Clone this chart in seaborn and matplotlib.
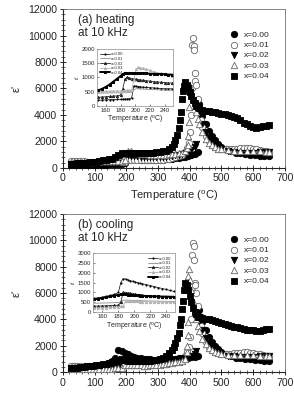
import matplotlib
matplotlib.use("Agg")
import matplotlib.pyplot as plt
import seaborn as sns
from matplotlib.ticker import AutoMinorLocator, MultipleLocator

sns.set_style("ticks")
plt.rcParams['font.family'] = ['Liberation Sans', 'DejaVu Sans']

labels = ["x=0.00", "x=0.01", "x=0.02", "x=0.03", "x=0.04"]

# shared low temperature grid (degC)
t_low = [25, 35, 45, 55, 65, 75, 85, 95, 105, 115, 125, 135, 145, 155, 165, 175, 185,
         195, 205, 215, 225, 235, 245, 255, 265, 275, 285, 295, 305, 315, 325, 335, 345]

# ---------------- (a) heating ----------------
heat_t00 = t_low + [355, 365, 375, 385, 395, 405, 415, 425,
                    430, 435, 440, 450, 460, 470, 480, 490, 500, 515, 530, 545, 560, 575, 590, 605, 620, 635, 650]
heat_e00 = [200, 200, 210, 210, 220, 220, 230, 230, 240, 240, 250, 250, 260, 260, 270, 270, 280,
            350, 700, 680, 650, 640, 620, 610, 600, 600, 600, 610, 620, 630, 650, 670, 700,
            730, 760, 800, 850, 900, 980, 1080, 1200,
            4800, 4300, 3900, 3300, 2800, 2400, 2100, 1800, 1600, 1400, 1250, 1150, 1100, 1050, 1000, 960, 930, 900, 880]

heat_t01 = t_low + [355, 365, 375, 385, 392, 397, 401, 404, 406, 408, 410, 412, 414, 416, 418, 420,
                    425, 430, 435, 440, 450, 460, 470, 480, 490, 500, 510, 520, 530, 540, 550, 560,
                    570, 580, 590, 600, 610, 620, 630, 640, 650]
heat_e01 = [500, 500, 500, 490, 490, 480, 480, 480, 470, 470, 470, 470, 460, 460, 460, 460, 460,
            470, 620, 600, 590, 580, 570, 560, 560, 560, 570, 580, 600, 620, 650, 700, 750,
            800, 880, 1000, 1200, 1500, 1900, 2700, 4000, 6000, 9300, 9800, 9200, 8900, 7200, 6600, 6300,
            5200, 4300, 3600, 3100, 2400, 2000, 1750, 1600, 1500, 1450, 1400, 1400, 1400, 1420, 1450, 1480,
            1500, 1500, 1480, 1450, 1400, 1350, 1300, 1250, 1200]

heat_t02 = t_low + [355, 365, 375, 385, 395, 405, 415, 420,
                    425, 430, 440, 450, 460, 470, 480, 490, 500, 520, 540, 560, 580, 600, 620, 640, 650]
heat_e02 = [300, 300, 310, 310, 320, 320, 330, 330, 340, 340, 350, 350, 360, 370, 380, 390, 950,
            1000, 950, 920, 900, 870, 850, 830, 810, 800, 800, 800, 810, 830, 850, 880, 920,
            960, 1000, 1050, 1120, 1200, 1350, 1600, 1800,
            4500, 4000, 3300, 2700, 2300, 2000, 1750, 1550, 1400, 1250, 1200, 1150, 1150, 1150, 1200, 1200, 1200]

heat_t03 = t_low + [355, 365, 375, 385, 390, 393, 395, 397, 399, 401,
                    405, 410, 415, 420, 425, 430, 440, 450, 460, 470, 480, 490, 500, 520, 540, 560,
                    580, 600, 620, 640, 650]
heat_e03 = [450, 450, 460, 460, 470, 470, 480, 480, 490, 490, 500, 500, 500, 510, 520, 530, 540,
            560, 1300, 1250, 1150, 1100, 1060, 1040, 1020, 1000, 1000, 1000, 1000, 1000, 1010, 1020, 1050,
            1080, 1100, 1150, 1300, 1500, 1700, 2400, 3500, 4600, 6200,
            5800, 5200, 4700, 4200, 3700, 3300, 2700, 2200, 1900, 1700, 1550, 1450, 1400, 1350, 1300, 1300,
            1300, 1300, 1250, 1200, 1200]

heat_t04 = t_low + [350, 355, 360, 365, 370, 373, 376, 379, 382, 385,
                    390, 395, 400, 405, 410, 415, 420, 425, 430, 440, 450, 460, 470, 480, 490, 500,
                    510, 520, 530, 540, 550, 560, 570, 580, 590, 600, 610, 620, 630, 640, 650]
heat_e04 = [300, 320, 340, 360, 380, 400, 420, 450, 480, 520, 560, 600, 650, 700, 850, 1000, 1150,
            1150, 1150, 1140, 1130, 1120, 1110, 1100, 1110, 1120, 1150, 1180, 1200, 1250, 1300, 1400, 1600,
            1800, 2100, 2500, 3000, 3600, 4200, 5200, 5800, 6200, 6500,
            6300, 6000, 5700, 5400, 5100, 4900, 4700, 4600, 4500, 4400, 4300, 4300, 4250, 4200, 4150, 4100,
            4050, 4000, 3900, 3850, 3750, 3600, 3400, 3300, 3200, 3100, 3050, 3100, 3150, 3200, 3250]

# ---------------- (b) cooling ----------------
cool_t00 = heat_t00
cool_e00 = [250, 260, 270, 280, 300, 320, 350, 380, 420, 470, 530, 600, 700, 850, 1100, 1650, 1600,
            1450, 1350, 1250, 1150, 1100, 1050, 1000, 980, 960, 950, 950, 960, 970, 990, 1000, 1010,
            1020, 1040, 1060, 1080, 1100, 1130, 1160, 1200,
            4700, 4200, 3800, 3200, 2700, 2300, 2000, 1750, 1550, 1350, 1200, 1100, 1050, 1000, 960, 930, 900, 880, 860]

cool_t01 = t_low + [355, 365, 375, 385, 392, 397, 401, 404, 406, 408, 410, 412, 414, 416, 418, 420,
                    425, 430, 435, 440, 450, 460, 470, 480, 490, 500, 510, 520, 530, 540, 550, 560,
                    570, 580, 590, 600, 610, 620, 630, 640, 650]
cool_e01 = [450, 450, 450, 450, 450, 450, 460, 460, 460, 460, 470, 470, 480, 490, 500, 510, 600,
            620, 610, 600, 590, 580, 570, 570, 570, 570, 580, 590, 600, 620, 650, 700, 750,
            800, 880, 1000, 1200, 1500, 1900, 2700, 4000, 6500, 8900, 9800, 9600, 8500, 6800, 6600, 6000,
            5000, 4200, 3500, 3000, 2300, 1900, 1700, 1550, 1450, 1400, 1380, 1380, 1400, 1420, 1450, 1480,
            1500, 1500, 1480, 1450, 1400, 1350, 1300, 1250, 1200]

cool_t02 = heat_t02
cool_e02 = [280, 280, 290, 290, 300, 300, 310, 310, 320, 320, 330, 330, 340, 340, 350, 360, 980,
            950, 900, 860, 820, 790, 760, 750, 740, 740, 750, 760, 780, 800, 830, 860, 900,
            940, 980, 1020, 1080, 1150, 1250, 1400, 1600,
            4400, 3900, 3200, 2600, 2200, 1900, 1700, 1500, 1380, 1250, 1200, 1150, 1150, 1150, 1200, 1200, 1200]

cool_t03 = t_low + [355, 365, 375, 385, 390, 392, 393, 394, 396, 398, 400,
                    405, 410, 415, 420, 425, 430, 440, 450, 460, 470, 480, 490, 500, 520, 540, 560,
                    580, 600, 620, 640, 650]
cool_e03 = [200, 200, 210, 210, 220, 220, 230, 230, 240, 240, 250, 250, 260, 270, 280, 290, 300,
            560, 550, 540, 530, 520, 510, 500, 500, 510, 520, 540, 560, 590, 620, 660, 700,
            750, 800, 880, 1000, 1500, 2000, 2800, 3800, 7300, 7800, 7000,
            6200, 5400, 4700, 4000, 3500, 3100, 2500, 2100, 1800, 1650, 1500, 1420, 1380, 1320, 1300, 1300,
            1300, 1280, 1250, 1200, 1200]

cool_t04 = heat_t04
cool_e04 = [300, 320, 340, 370, 400, 430, 460, 490, 530, 570, 610, 650, 700, 760, 830, 900, 900,
            890, 880, 870, 860, 850, 840, 830, 840, 860, 900, 950, 1000, 1100, 1250, 1450, 1700,
            1900, 2200, 2600, 3000, 3600, 4000, 4800, 5400, 6200, 6800,
            6600, 6200, 5800, 5300, 4900, 4600, 4400, 4200, 4150, 4100, 4050, 4000, 3950, 3900, 3800, 3700,
            3650, 3600, 3500, 3450, 3400, 3350, 3300, 3200, 3200, 3200, 3150, 3150, 3200, 3250, 3250]

# ---------------- insets ----------------
t_in = [150, 155, 160, 165, 170, 175, 180, 183, 186, 189, 192, 195, 198, 201, 204, 207, 210,
        215, 220, 225, 230, 235, 240, 245, 250]

heat_in = [
    [200, 205, 210, 215, 220, 225, 230, 235, 240, 245, 250, 280, 700, 690, 680, 670, 660,
     650, 640, 630, 620, 610, 600, 600, 600],
    [450, 450, 455, 455, 460, 460, 460, 460, 465, 465, 470, 480, 560, 600, 600, 590, 590,
     580, 575, 570, 565, 560, 555, 550, 550],
    [300, 310, 320, 330, 340, 350, 380, 600, 950, 1000, 980, 960, 940, 930, 920, 910, 900,
     880, 870, 850, 840, 830, 820, 810, 800],
    [500, 505, 510, 515, 520, 525, 530, 535, 540, 545, 550, 560, 900, 1300, 1350, 1340, 1320,
     1280, 1250, 1200, 1170, 1140, 1110, 1080, 1050],
    [550, 600, 670, 750, 850, 950, 1050, 1120, 1150, 1150, 1150, 1150, 1150, 1150, 1150, 1150, 1140,
     1140, 1130, 1130, 1120, 1120, 1110, 1100, 1100],
]

cool_in = [
    [700, 730, 760, 800, 850, 900, 1000, 1500, 1700, 1680, 1640, 1600, 1560, 1530, 1500, 1470, 1440,
     1400, 1350, 1300, 1250, 1200, 1150, 1100, 1050],
    [450, 455, 460, 465, 470, 480, 490, 520, 600, 610, 605, 600, 595, 590, 585, 580, 575,
     570, 565, 560, 555, 550, 550, 545, 540],
    [300, 305, 310, 320, 330, 340, 350, 500, 1000, 990, 970, 950, 930, 910, 890, 870, 860,
     840, 820, 800, 790, 780, 770, 760, 750],
    [200, 210, 220, 230, 240, 250, 270, 290, 300, 550, 560, 555, 550, 545, 540, 535, 530,
     525, 520, 515, 510, 505, 500, 500, 500],
    [650, 680, 720, 760, 800, 840, 880, 900, 900, 900, 890, 880, 870, 860, 850, 840, 830,
     820, 810, 800, 800, 790, 790, 780, 780],
]

markers = ['o', 'o', 'v', '^', 's']
faces = ['black', 'white', 'black', 'white', 'black']
edges = ['black', '0.4', 'black', '0.4', 'black']

in_colors = ['black', '0.55', '0.15', '0.7', 'black']
in_lw = [0.5, 0.6, 0.6, 0.6, 1.4]
in_markers = ['.', '', '^', '^', 's']

temp_label = "Temperature ($\\mathregular{^{o}}$C)"


def draw_main(ax, series, title):
    for (t, e), lab, m, fc, ec in zip(series, labels, markers, faces, edges):
        sns.scatterplot(x=t, y=e, ax=ax, marker=m, color=fc, edgecolor=ec,
                        linewidth=0.6, s=21, label=lab, zorder=3)
    ax.set_xlim(0, 700)
    ax.set_ylim(0, 12000)
    ax.xaxis.set_major_locator(MultipleLocator(100))
    ax.yaxis.set_major_locator(MultipleLocator(2000))
    ax.xaxis.set_minor_locator(AutoMinorLocator(5))
    ax.yaxis.set_minor_locator(AutoMinorLocator(5))
    ax.tick_params(which='major', direction='inout', length=4, width=0.7, labelsize=7.6, pad=2)
    ax.tick_params(which='minor', direction='inout', length=2.2, width=0.5)
    ax.set_ylabel("ε'", fontsize=8, labelpad=5)
    for sp in ['top', 'right']:
        ax.spines[sp].set_color('0.45')
        ax.spines[sp].set_linewidth(0.6)
    for sp in ['left', 'bottom']:
        ax.spines[sp].set_linewidth(0.8)
    ax.text(0.07, 0.97, title, transform=ax.transAxes, ha='left', va='top',
            fontsize=8.5, linespacing=1.1)
    ax.legend(loc='upper left', bbox_to_anchor=(0.72, 0.90), frameon=False, fontsize=6,
              labelspacing=0.3, handletextpad=0.6, handlelength=1.2, borderpad=0.2)


def draw_inset(ax, curves, ymax, legend_loc):
    for vals, lab, c, lw, m in zip(curves, labels, in_colors, in_lw, in_markers):
        sns.lineplot(x=t_in, y=vals, ax=ax, color=c, lw=lw, marker=m if m else None,
                     ms=1.6 if m != 's' else 2.0, mec=c, mfc=c, label=lab)
    ax.set_xlim(148, 251)
    ax.set_ylim(0, ymax)
    ax.xaxis.set_major_locator(MultipleLocator(20))
    ax.yaxis.set_major_locator(MultipleLocator(500))
    ax.tick_params(which='major', direction='in', length=1.5, width=0.4, labelsize=4.3, pad=1.5)
    for sp in ax.spines.values():
        sp.set_color('0.55')
        sp.set_linewidth(0.5)
    ax.set_xlabel(temp_label, fontsize=5, labelpad=1)
    ax.set_ylabel("ε'", fontsize=4, labelpad=1)
    ax.legend(loc=legend_loc, frameon=False, fontsize=3, labelspacing=0.15,
              handlelength=2.2, handletextpad=0.4, borderpad=0.3)


fig = plt.figure(figsize=(2.94, 3.95), dpi=100)

ax_a = fig.add_axes([0.214, 0.575, 0.755, 0.402])
draw_main(ax_a, [(heat_t00, heat_e00), (heat_t01, heat_e01), (heat_t02, heat_e02),
                 (heat_t03, heat_e03), (heat_t04, heat_e04)], "(a) heating\nat 10 kHz")
ax_a.set_xlabel(temp_label, fontsize=8, labelpad=4)

ax_b = fig.add_axes([0.214, 0.058, 0.755, 0.400])
draw_main(ax_b, [(cool_t00, cool_e00), (cool_t01, cool_e01), (cool_t02, cool_e02),
                 (cool_t03, cool_e03), (cool_t04, cool_e04)], "(b) cooling\nat 10 kHz")
ax_b.set_xlabel("")

ax_ai = fig.add_axes([0.330, 0.732, 0.258, 0.144])
draw_inset(ax_ai, heat_in, 2000, 'upper left')

ax_bi = fig.add_axes([0.316, 0.210, 0.279, 0.149])
draw_inset(ax_bi, cool_in, 3000, 'upper right')

fig.savefig("out.png", dpi=100)
